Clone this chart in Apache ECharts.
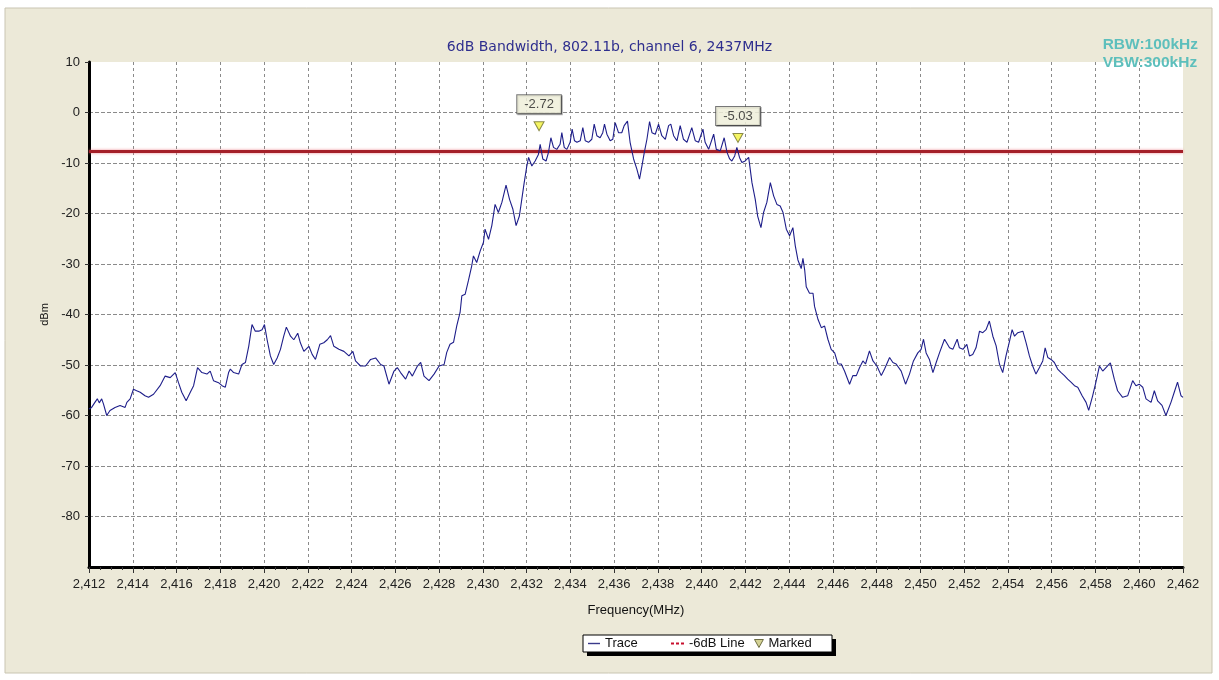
<!DOCTYPE html>
<html>
<head>
<meta charset="utf-8">
<title>6dB Bandwidth</title>
<script src="https://cdn.jsdelivr.net/npm/echarts@6/dist/echarts.min.js"></script>
<style>
  html, body { margin: 0; padding: 0; background: #fff; }
  #chart { width: 1219px; height: 680px; }
</style>
</head>
<body>
<div id="chart"></div>
<script>
  // trace, [frequency MHz, level dBm]
  const traceLowSide = [
    [2412.00,-58.7],[2412.12,-58.4],[2412.27,-57.4],[2412.38,-56.7],[2412.47,-57.5],[2412.58,-56.7],[2412.66,-57.7],[2412.81,-60.0],
    [2412.96,-59.0],[2413.19,-58.4],[2413.42,-58.0],[2413.65,-58.4],[2413.73,-57.4],[2413.88,-56.7],[2414.03,-54.8],[2414.18,-55.1],
    [2414.34,-55.4],[2414.56,-56.1],[2414.72,-56.4],[2414.95,-55.8],[2415.25,-54.1],[2415.48,-52.2],[2415.71,-52.5],[2415.94,-51.5],
    [2416.09,-53.5],[2416.24,-55.4],[2416.44,-57.1],[2416.63,-55.4],[2416.78,-54.1],[2416.96,-50.5],[2417.16,-51.5],[2417.39,-51.8],
    [2417.54,-51.2],[2417.69,-53.1],[2417.92,-53.5],[2418.08,-54.1],[2418.23,-54.4],[2418.38,-51.5],[2418.46,-50.8],[2418.61,-51.5],
    [2418.84,-51.8],[2418.99,-49.9],[2419.15,-49.5],[2419.30,-46.3],[2419.45,-42.0],[2419.60,-43.3],[2419.76,-43.3],[2419.91,-43.0],
    [2420.02,-42.0],[2420.14,-45.0],[2420.29,-48.2],[2420.44,-49.9],[2420.60,-48.6],[2420.75,-46.9],[2420.90,-44.3],[2421.02,-42.5],
    [2421.21,-44.3],[2421.36,-45.0],[2421.54,-43.7],[2421.66,-45.6],[2421.82,-47.3],[2422.05,-46.3],[2422.20,-47.9],[2422.35,-48.9],
    [2422.55,-45.9],[2422.73,-45.6],[2422.89,-45.0],[2423.04,-44.2],[2423.19,-46.3],[2423.42,-46.9],[2423.65,-47.3],[2423.88,-48.2],
    [2424.06,-47.3],[2424.18,-49.2],[2424.41,-50.2],[2424.64,-50.2],[2424.87,-48.9],[2425.10,-48.6],[2425.33,-49.9],[2425.48,-50.2],
    [2425.71,-53.8],[2425.94,-51.2],[2426.09,-50.5],[2426.24,-51.5],[2426.47,-52.8],[2426.63,-51.2],[2426.78,-52.2],[2427.01,-50.2],
    [2427.16,-49.5],[2427.31,-52.2],[2427.54,-53.1],[2427.77,-51.8],[2428.00,-50.2],[2428.23,-49.9]
  ];
  const traceBand = [
    [2428.35,-47.5],[2428.50,-45.9],[2428.66,-45.5],[2428.81,-42.2],[2428.96,-39.6],[2429.04,-36.3],[2429.19,-36.0],[2429.34,-33.3],
    [2429.49,-30.4],[2429.57,-28.4],[2429.72,-29.7],[2429.88,-27.4],[2430.03,-25.7],[2430.10,-23.1],[2430.26,-25.1],[2430.41,-22.4],
    [2430.56,-18.2],[2430.71,-19.8],[2430.87,-17.8],[2431.06,-14.4],[2431.22,-17.2],[2431.37,-19.1],[2431.52,-22.4],[2431.67,-20.5],
    [2431.78,-17.2],[2431.89,-13.9],[2432.01,-10.6],[2432.09,-8.9],[2432.24,-10.6],[2432.39,-9.6],[2432.54,-8.3],[2432.62,-6.3],
    [2432.74,-9.2],[2432.89,-9.6],[2433.00,-7.9],[2433.11,-5.0],[2433.23,-6.9],[2433.38,-7.3],[2433.53,-6.3],[2433.61,-4.0],
    [2433.72,-6.9],[2433.84,-7.3],[2433.99,-5.9],[2434.08,-3.3],[2434.19,-5.6],[2434.30,-5.9],[2434.45,-5.6],[2434.57,-3.0],
    [2434.68,-5.6],[2434.83,-5.9],[2434.98,-5.3],[2435.09,-2.3],[2435.21,-4.6],[2435.36,-5.0],[2435.48,-4.0],[2435.56,-2.3],
    [2435.67,-4.3],[2435.82,-5.6],[2435.94,-5.3],[2436.05,-2.0],[2436.20,-4.0],[2436.35,-4.0],[2436.46,-2.6],[2436.61,-1.7],
    [2436.73,-5.9],[2436.89,-9.2],[2437.04,-11.2],[2437.16,-13.2],[2437.27,-10.6],[2437.38,-7.9],[2437.50,-5.3],[2437.62,-1.8],
    [2437.73,-4.0],[2437.88,-4.3],[2438.03,-2.3],[2438.18,-4.6],[2438.34,-5.3],[2438.49,-2.6],[2438.59,-2.3],[2438.72,-4.6],
    [2438.87,-5.6],[2439.02,-2.6],[2439.17,-5.3],[2439.33,-5.9],[2439.55,-3.0],[2439.71,-5.6],[2439.86,-5.9],[2440.06,-3.3],
    [2440.16,-5.9],[2440.32,-7.3],[2440.55,-4.3],[2440.67,-7.3],[2440.85,-7.6],[2441.03,-5.0],[2441.16,-7.9],[2441.28,-9.2],
    [2441.38,-9.6],[2441.51,-8.6],[2441.61,-6.9],[2441.73,-8.9],[2441.84,-9.9],[2441.99,-9.6],[2442.15,-8.9],[2442.30,-13.9],
    [2442.45,-17.2],[2442.56,-20.5],[2442.71,-22.8],[2442.83,-19.8],[2442.98,-17.8],[2443.14,-13.9],[2443.29,-16.5],[2443.44,-18.2],
    [2443.59,-18.5],[2443.72,-19.8],[2443.87,-23.1],[2444.02,-24.4],[2444.17,-22.8],[2444.28,-26.4]
  ];
  const traceHighSide = [
    [2444.40,-29.2],[2444.55,-30.9],[2444.63,-28.9],[2444.71,-31.2],[2444.78,-34.5],[2444.93,-35.8],[2445.09,-35.8],[2445.16,-38.4],
    [2445.32,-41.0],[2445.47,-42.6],[2445.62,-42.3],[2445.77,-44.9],[2445.92,-46.9],[2446.08,-47.6],[2446.23,-49.8],[2446.38,-49.8],
    [2446.53,-51.2],[2446.76,-53.8],[2446.91,-52.1],[2447.07,-52.1],[2447.22,-50.5],[2447.37,-49.2],[2447.49,-49.8],[2447.67,-47.2],
    [2447.83,-49.2],[2448.01,-50.2],[2448.21,-52.1],[2448.36,-50.8],[2448.59,-48.5],[2448.74,-49.5],[2448.89,-49.8],[2449.12,-51.2],
    [2449.32,-53.8],[2449.50,-51.8],[2449.68,-49.2],[2449.88,-47.6],[2450.03,-46.9],[2450.14,-44.9],[2450.26,-47.6],[2450.41,-48.9],
    [2450.57,-51.5],[2450.72,-49.5],[2450.87,-47.6],[2451.10,-44.9],[2451.17,-44.6],[2451.33,-46.6],[2451.48,-46.9],[2451.68,-44.9],
    [2451.78,-46.6],[2451.94,-46.9],[2452.12,-45.9],[2452.24,-48.2],[2452.39,-47.9],[2452.54,-46.6],[2452.70,-43.3],[2452.85,-43.6],
    [2453.00,-43.0],[2453.15,-41.3],[2453.31,-44.3],[2453.46,-46.2],[2453.61,-49.8],[2453.76,-51.5],[2453.91,-48.2],[2454.07,-45.3],
    [2454.19,-43.0],[2454.30,-44.3],[2454.45,-43.6],[2454.68,-43.3],[2454.83,-45.6],[2454.98,-48.2],[2455.13,-50.2],[2455.28,-51.8],
    [2455.44,-50.5],[2455.59,-49.2],[2455.70,-46.6],[2455.82,-48.5],[2455.97,-48.9],[2456.12,-49.5],[2456.27,-50.8],[2456.43,-51.5],
    [2456.58,-52.1],[2456.73,-52.8],[2456.88,-53.4],[2457.04,-54.1],[2457.19,-54.4],[2457.39,-56.1],[2457.57,-57.4],[2457.69,-59.0],
    [2457.87,-56.1],[2458.02,-53.4],[2458.18,-50.2],[2458.33,-51.2],[2458.48,-50.5],[2458.68,-49.6],[2458.86,-52.8],[2459.01,-55.1],
    [2459.24,-56.4],[2459.47,-56.1],[2459.70,-53.1],[2459.85,-54.1],[2460.00,-53.8],[2460.16,-54.4],[2460.31,-56.7],[2460.54,-57.4],
    [2460.69,-55.1],[2460.84,-57.1],[2461.04,-58.0],[2461.22,-60.0],[2461.45,-57.4],[2461.60,-55.4],[2461.75,-53.4],[2461.91,-56.1],
    [2462.00,-56.4]
  ];
  const limitLevel = -7.72;           // -6dB line
  const markerFreq = [2432.57, 2441.66];
  const markerLevel = [-2.72, -5.03];
  const freqRange = [2412, 2462];

  const chart = echarts.init(document.getElementById('chart'));

  const fmtFreq = v => String(v).replace(/^(\d)(\d{3})$/, '$1,$2');

  const legendText = { fontSize: 13, color: '#111' };

  const option = {
    animation: false,
    textStyle: { fontFamily: 'Liberation Sans, Arial, sans-serif' },
    graphic: [
      { type: 'rect', z: -10, shape: { x: 5, y: 8, width: 1207, height: 665 },
        style: { fill: '#ECE9D8', stroke: '#C9C5B2', lineWidth: 1 } },
      { type: 'rect', z: 10, shape: { x: 587, y: 639, width: 249, height: 17 }, style: { fill: '#000' } },
      { type: 'rect', z: 11, shape: { x: 583, y: 635, width: 249, height: 17 },
        style: { fill: '#fff', stroke: '#000', lineWidth: 1 } },
      { type: 'text', z: 12, right: 21, top: 36,
        style: { text: 'RBW:100kHz\nVBW:300kHz', fill: '#5DBFBC', font: 'bold 15.5px "Liberation Sans", Arial, sans-serif',
                 align: 'right', lineHeight: 18 } }
    ],
    title: {
      text: '6dB Bandwidth, 802.11b, channel 6, 2437MHz',
      left: 'center',
      top: 35,
      textStyle: { color: '#2E2E8E', fontSize: 14, fontWeight: 'normal', fontFamily: 'DejaVu Sans, sans-serif' }
    },
    grid: { left: 89, right: 36, top: 62, bottom: 113, show: true, backgroundColor: '#fff', borderWidth: 0 },
    legend: [
      { data: [{ name: 'Trace', icon: 'path://M0,0 H12 V1.4 H0 Z' }], left: 588, top: 637, padding: 0,
        itemWidth: 12, itemHeight: 8, z: 20, textStyle: legendText },
      { data: [{ name: '-6dB Line', icon: 'path://M0,0 H3 V2 H0 Z M5,0 H8 V2 H5 Z M10,0 H13 V2 H10 Z' }],
        left: 671, top: 637, padding: 0, itemWidth: 13, itemHeight: 8, z: 20, textStyle: legendText },
      { data: [{ name: 'Marked', icon: 'path://M0,0 L10,0 L5,9 Z' }], left: 754, top: 637, padding: 0,
        itemWidth: 9, itemHeight: 8, z: 20, textStyle: legendText,
        itemStyle: { color: '#C9C77A', borderColor: '#4F4F22', borderWidth: 1 } }
    ],
    xAxis: {
      type: 'value',
      min: freqRange[0],
      max: freqRange[1],
      interval: 2,
      name: 'Frequency(MHz)',
      nameLocation: 'middle',
      nameGap: 37,
      nameTextStyle: { fontSize: 13, color: '#111' },
      axisLine: { onZero: false, lineStyle: { color: '#000', width: 3 } },
      axisTick: { length: 6, lineStyle: { color: '#333' } },
      minorTick: { show: true, splitNumber: 4, length: 3, lineStyle: { color: '#333' } },
      axisLabel: { fontSize: 13, color: '#222', margin: 11, formatter: fmtFreq },
      splitLine: { show: true, showMinLine: false, showMaxLine: false,
                   lineStyle: { color: '#8A8A8A', type: [3, 3], width: 1 } }
    },
    yAxis: {
      type: 'value',
      min: -90,
      max: 10,
      interval: 10,
      name: 'dBm',
      nameLocation: 'middle',
      nameGap: 27,
      nameTextStyle: { fontSize: 11, color: '#111' },
      axisLine: { show: true, onZero: false, lineStyle: { color: '#000', width: 3 } },
      axisTick: { show: true, length: 4, lineStyle: { color: '#333' } },
      axisLabel: { fontSize: 13, color: '#222', margin: 9, showMinLabel: false },
      splitLine: { show: true, showMinLine: false, showMaxLine: false,
                   lineStyle: { color: '#8A8A8A', type: [4, 2], width: 1 } }
    },
    series: [
      {
        name: '-6dB Line',
        type: 'line',
        data: [[freqRange[0], limitLevel], [freqRange[1], limitLevel]],
        symbol: 'none',
        lineStyle: { color: '#A41F28', width: 3, shadowColor: 'rgba(235,110,120,0.8)', shadowBlur: 3 },
        itemStyle: { color: '#C8102E' },
        z: 2
      },
      {
        name: 'Trace',
        type: 'line',
        data: traceLowSide.concat(traceBand, traceHighSide),
        symbol: 'none',
        lineStyle: { color: '#1E1E8A', width: 1.1 },
        itemStyle: { color: '#3A3A8A' },
        z: 3
      },
      {
        name: 'Marked',
        type: 'scatter',
        data: markerFreq.map((f, i) => [f, markerLevel[i]]),
        symbol: 'triangle',
        symbolRotate: 180,
        symbolSize: [10, 9],
        itemStyle: { color: '#F3F23C', borderColor: '#6E6E2A', borderWidth: 1 },
        label: {
          show: true,
          position: 'top',
          distance: 8,
          formatter: p => p.value[1].toFixed(2),
          fontSize: 13,
          color: '#222',
          lineHeight: 14,
          backgroundColor: '#FFFFE8',
          borderColor: '#555',
          borderWidth: 1,
          padding: [2, 7, 2, 7],
          shadowColor: 'rgba(0,0,0,0.35)',
          shadowOffsetX: 1,
          shadowOffsetY: 1
        },
        z: 4
      }
    ]
  };

  chart.setOption(option);
</script>
</body>
</html>
